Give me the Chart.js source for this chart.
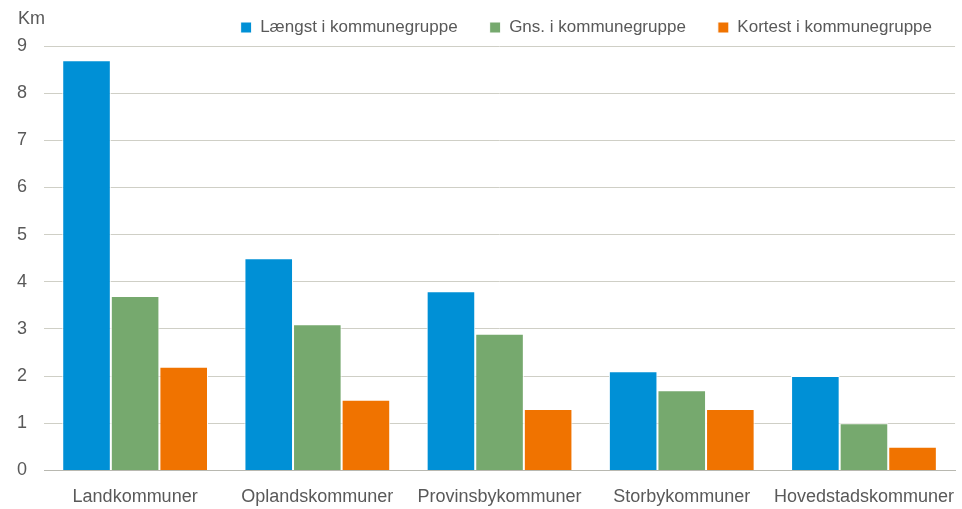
<!DOCTYPE html>
<html>
<head>
<meta charset="utf-8">
<script src="https://cdn.jsdelivr.net/npm/chart.js@4"></script>
<style>
  html, body { margin: 0; padding: 0; background: #fff; }
  #wrap { width: 962px; height: 509px; position: relative; }
</style>
</head>
<body>
<div id="wrap"><canvas id="chart"></canvas></div>
<script>
const categories = ['Landkommuner', 'Oplandskommuner', 'Provinsbykommuner', 'Storbykommuner', 'Hovedstadskommuner']
const longest = [8.7, 4.5, 3.8, 2.1, 2.0]
const average = [3.7, 3.1, 2.9, 1.7, 1.0]
const shortest = [2.2, 1.5, 1.3, 1.3, 0.5]
const seriesNames = ['Længst i kommunegruppe', 'Gns. i kommunegruppe', 'Kortest i kommunegruppe']
const unitLabel = 'Km'

const textColor = '#595959'
const fontFamily = '"Liberation Sans", Arial, sans-serif'

// draws the unit label in the top left corner
const unitPlugin = {
  id: 'unitLabel',
  afterDraw(chart) {
    let ctx = chart.ctx
    ctx.save()
    ctx.fillStyle = textColor
    ctx.font = '18px ' + fontFamily
    ctx.textBaseline = 'middle'
    ctx.textAlign = 'left'
    ctx.fillText(unitLabel, 18, 19)
    ctx.restore()
  }
}

function makeDataset(label, data, color) {
  return {
    label: label,
    data: data,
    backgroundColor: color,
    borderColor: '#ffffff',
    borderWidth: 1,
    barPercentage: 1.0,
    categoryPercentage: 0.8
  }
}

let ctx = document.getElementById('chart').getContext('2d')
let chart = new Chart(ctx, {
  type: 'bar',
  data: {
    labels: categories,
    datasets: [
      makeDataset(seriesNames[0], longest, '#0090d6'),
      makeDataset(seriesNames[1], average, '#76a96e'),
      makeDataset(seriesNames[2], shortest, '#f07300')
    ]
  },
  options: {
    responsive: true,
    maintainAspectRatio: false,
    animation: false,
    layout: { padding: { top: -13, right: -2, left: 0, bottom: -7 } },
    plugins: {
      legend: {
        position: 'top',
        align: 'end',
        labels: {
          color: textColor,
          font: { size: 17, family: fontFamily },
          boxWidth: 11,
          boxHeight: 11,
          padding: 32
        }
      },
      tooltip: { enabled: false }
    },
    scales: {
      x: {
        grid: { display: false },
        border: { color: '#b8b8b0', width: 1 },
        ticks: {
          color: textColor,
          font: { size: 18, family: fontFamily },
          padding: 8,
          maxRotation: 0
        }
      },
      y: {
        min: 0,
        max: 9,
        ticks: {
          stepSize: 1,
          color: textColor,
          font: { size: 18, family: fontFamily },
          padding: 17
        },
        grid: { color: '#cfcfc6', drawTicks: false, lineWidth: 1 },
        border: { display: false }
      }
    }
  },
  plugins: [unitPlugin]
})
</script>
</body>
</html>
